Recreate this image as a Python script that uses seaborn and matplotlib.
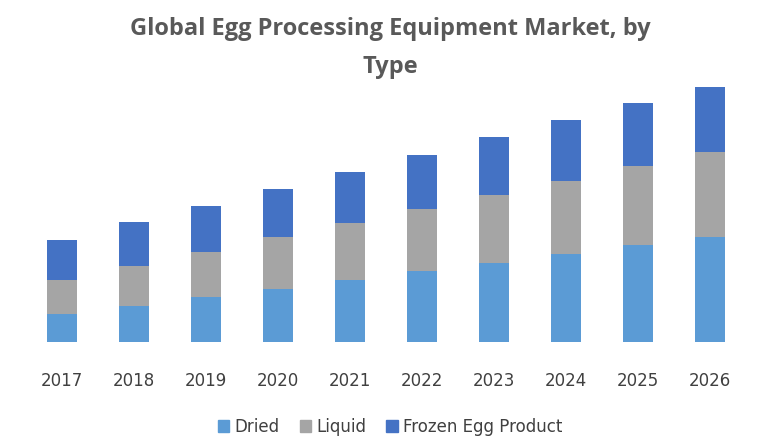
import matplotlib
matplotlib.use("Agg")
import matplotlib.pyplot as plt
import seaborn as sns
import pandas as pd
import numpy as np

years = ["2017","2018","2019","2020","2021","2022","2023","2024","2025","2026"]
dried = [28, 36, 45, 53, 62, 71, 79, 88, 97, 105]
liquid = [34, 40, 45, 52, 57, 62, 68, 73, 79, 85]
frozen = [40, 44, 46, 48, 51, 54, 58, 61, 63, 65]

series = ["Dried", "Liquid", "Frozen Egg Product"]
colors = ["#5B9BD5", "#A5A5A5", "#4472C4"]

df = pd.DataFrame({"year": years, "Dried": dried, "Liquid": liquid, "Frozen Egg Product": frozen})

fig = plt.figure(figsize=(7.8, 4.4), dpi=100)
ax = fig.add_axes([0.033, 0.223, 0.923, 0.591])
cum = np.vstack([df[s].values for s in series]).cumsum(axis=0)
for i in reversed(range(3)):
    sns.barplot(x=df["year"], y=cum[i], color=colors[i], width=0.42, ax=ax,
                saturation=1, label=series[i])
ax.set_ylim(0, 260)
ax.set_xlim(-0.5, 9.5)
ax.set_xlabel(""); ax.set_ylabel("")
ax.set_yticks([])
for sp in ax.spines.values():
    sp.set_visible(False)
ax.tick_params(axis="x", length=0, pad=22, labelsize=12, labelcolor="#404040")
if ax.get_legend():
    ax.get_legend().remove()
handles = [plt.Rectangle((0, 0), 1, 1, color=c) for c in colors]
fig.legend(handles, series, loc="center", bbox_to_anchor=(0.5, 0.03), ncol=3, frameon=False,
           fontsize=12, handlelength=0.7, handleheight=0.7, labelcolor="#404040",
           columnspacing=1.2, handletextpad=0.3)
fig.text(0.5, 0.935, "Global Egg Processing Equipment Market, by", ha="center", va="center",
         fontsize=17, fontweight="bold", color="#595959", family="Open Sans")
fig.text(0.5, 0.848, "Type", ha="center", va="center", fontsize=17, fontweight="bold",
         color="#595959", family="Open Sans")
fig.savefig("out.png", dpi=100)
